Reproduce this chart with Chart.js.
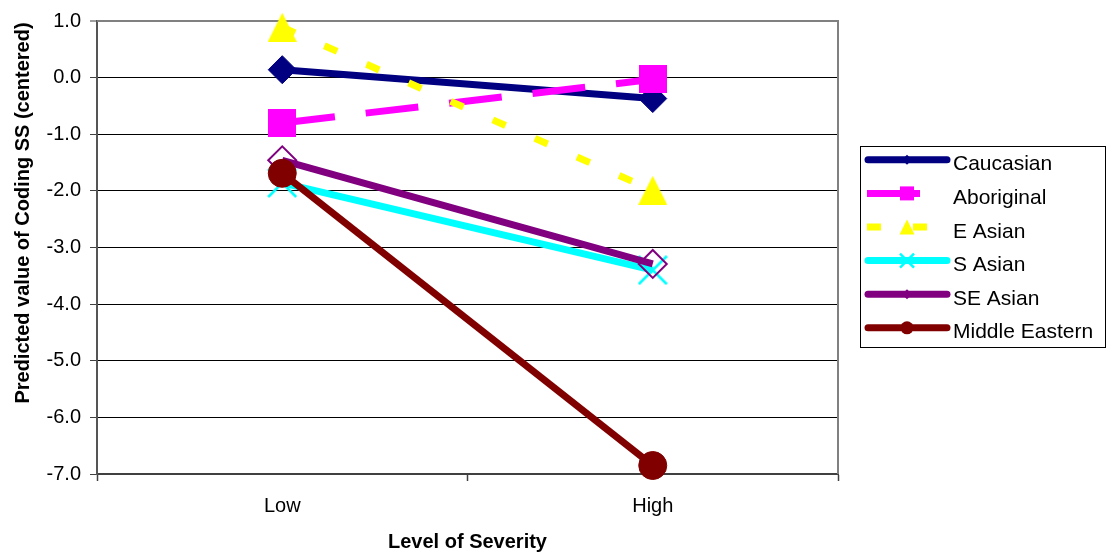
<!DOCTYPE html>
<html>
<head>
<meta charset="utf-8">
<script src="https://cdn.jsdelivr.net/npm/chart.js@4/dist/chart.umd.min.js"></script>
<style>
  html, body { margin: 0; padding: 0; background: #fff; }
  #wrap { width: 1112px; height: 559px; position: relative; }
</style>
</head>
<body>
<div id="wrap"><canvas id="c"></canvas></div>
<script>
// Categories and predicted values per group
const categories = ['Low', 'High'];
const caucasian = [0.14, -0.37];
const aboriginal = [-0.80, -0.03];
const eAsian = [0.89, -1.99];
const sAsian = [-1.86, -3.40];
const seAsian = [-1.46, -3.29];
const middleEastern = [-1.69, -6.85];
const seriesNames = ['Caucasian', 'Aboriginal', 'E Asian', 'S Asian', 'SE Asian', 'Middle Eastern'];
const yTicks = [1, 0, -1, -2, -3, -4, -5, -6, -7];
const yTitle = 'Predicted value of Coding SS (centered)';
const xTitle = 'Level of Severity';

const FONT = "'Liberation Sans', Arial, Helvetica, sans-serif";

// Marker sprites, each centred on its point
function sprite(size, paint) {
  const c = document.createElement('canvas');
  c.width = size; c.height = size;
  paint(c.getContext('2d'), size);
  return c;
}
function triangleImage(size, color) {
  return sprite(size, (g, n) => {
    g.fillStyle = color;
    g.beginPath();
    g.moveTo(n / 2, 0); g.lineTo(n, n); g.lineTo(0, n);
    g.closePath(); g.fill();
  });
}
function squareImage(size, color) {
  return sprite(size, (g, n) => { g.fillStyle = color; g.fillRect(0, 0, n, n); });
}
function crossImage(size, color, width) {
  return sprite(size, (g, n) => {
    g.strokeStyle = color; g.lineWidth = width;
    g.beginPath();
    g.moveTo(1, 1); g.lineTo(n - 1, n - 1);
    g.moveTo(n - 1, 1); g.lineTo(1, n - 1);
    g.stroke();
  });
}

const styles = [
  { color: '#000080', dash: [], marker: 'diamond', fill: true, lw: 1 },
  { color: '#FF00FF', dash: [53, 31], marker: 'square', fill: true, lw: 1 },
  { color: '#FFFF00', dash: [14, 32], marker: 'triangle', fill: true, lw: 1 },
  { color: '#00FFFF', dash: [], marker: 'x', fill: false, lw: 2.5 },
  { color: '#800080', dash: [], marker: 'diamondOpen', fill: false, lw: 2 },
  { color: '#800000', dash: [], marker: 'circle', fill: true, lw: 1 }
];
const seriesValues = [caucasian, aboriginal, eAsian, sAsian, seAsian, middleEastern];

function pointStyleFor(s) {
  switch (s.marker) {
    case 'diamond': case 'diamondOpen': return 'rectRot';
    case 'square': return squareImage(28, s.color);
    case 'triangle': return triangleImage(29, s.color);
    case 'x': return crossImage(30, s.color, 2.5);
    default: return 'circle';
  }
}

const datasets = seriesNames.map((name, i) => {
  const s = styles[i];
  return {
    label: name,
    data: seriesValues[i],
    borderColor: s.color,
    backgroundColor: s.color,
    borderWidth: 7,
    borderDash: s.dash,
    borderCapStyle: 'butt',
    pointStyle: pointStyleFor(s),
    pointRadius: 14,
    pointHoverRadius: 14,
    pointBackgroundColor: s.fill ? s.color : 'rgba(0,0,0,0)',
    pointBorderColor: s.color,
    pointBorderWidth: s.lw,
    clip: false,
    tension: 0,
    // later series are painted over earlier ones
    order: seriesNames.length - 1 - i
  };
});

// Small marker painter for the legend samples
function drawLegendMarker(ctx, s, x, y) {
  ctx.save();
  ctx.setLineDash([]);
  ctx.fillStyle = s.color;
  ctx.strokeStyle = s.color;
  ctx.beginPath();
  switch (s.marker) {
    case 'diamond':
    case 'diamondOpen': {
      const r = 5;
      ctx.moveTo(x, y - r); ctx.lineTo(x + r, y); ctx.lineTo(x, y + r); ctx.lineTo(x - r, y); ctx.closePath();
      ctx.fill();
      break;
    }
    case 'square': {
      const h = 7;
      ctx.rect(x - h, y - h, 2 * h, 2 * h);
      ctx.fill();
      break;
    }
    case 'triangle': {
      const h = 7.5;
      ctx.moveTo(x, y - h); ctx.lineTo(x + h, y + h); ctx.lineTo(x - h, y + h); ctx.closePath();
      ctx.fill();
      break;
    }
    case 'x': {
      const h = 7;
      ctx.lineWidth = 2.5;
      ctx.moveTo(x - h, y - h); ctx.lineTo(x + h, y + h);
      ctx.moveTo(x + h, y - h); ctx.lineTo(x - h, y + h);
      ctx.stroke();
      break;
    }
    default: {
      ctx.arc(x, y, 6.5, 0, Math.PI * 2);
      ctx.fill();
    }
  }
  ctx.restore();
}

// Grey frame on the top and right of the plot area
const framePlugin = {
  id: 'plotFrame',
  beforeDatasetsDraw(chart) {
    const { ctx, chartArea } = chart;
    ctx.save();
    ctx.strokeStyle = '#808080';
    ctx.lineWidth = 2;
    ctx.beginPath();
    ctx.moveTo(chartArea.left, chartArea.top);
    ctx.lineTo(chartArea.right, chartArea.top);
    ctx.lineTo(chartArea.right, chartArea.bottom);
    ctx.stroke();
    ctx.restore();
  }
};

// Vertical axis title, placed a little above the plot's middle
const yTitlePlugin = {
  id: 'yTitle',
  afterDraw(chart) {
    const ctx = chart.ctx;
    ctx.save();
    ctx.translate(23, 213);
    ctx.rotate(-Math.PI / 2);
    ctx.fillStyle = '#000';
    ctx.font = 'bold 20px ' + FONT;
    ctx.textAlign = 'center';
    ctx.textBaseline = 'middle';
    ctx.fillText(yTitle, 0, 0);
    ctx.restore();
  }
};

const legendPlugin = {
  id: 'sideLegend',
  afterDraw(chart) {
    const ctx = chart.ctx;
    const box = { x: 860.5, y: 146.5, w: 245, h: 201 };
    ctx.save();
    ctx.fillStyle = '#fff';
    ctx.fillRect(box.x, box.y, box.w, box.h);
    ctx.strokeStyle = '#000';
    ctx.lineWidth = 1;
    ctx.strokeRect(box.x, box.y, box.w, box.h);
    const rowStep = 33.6;
    seriesNames.forEach((name, i) => {
      const s = styles[i];
      const textY = 162.8 + i * rowStep;
      const lineY = textY - 3;
      ctx.save();
      ctx.strokeStyle = s.color;
      ctx.lineWidth = 7;
      ctx.lineCap = s.dash.length ? 'butt' : 'round';
      ctx.setLineDash(s.dash);
      ctx.beginPath();
      if (s.dash.length) {
        ctx.moveTo(867, lineY);
        ctx.lineTo(950, lineY);
      } else {
        ctx.moveTo(868, lineY);
        ctx.lineTo(947, lineY);
      }
      ctx.stroke();
      ctx.restore();
      drawLegendMarker(ctx, s, 907, lineY);
      ctx.fillStyle = '#000';
      ctx.font = '21px ' + FONT;
      ctx.textAlign = 'left';
      ctx.textBaseline = 'alphabetic';
      ctx.fillText(name, 953, textY + 7.5);
    });
    ctx.restore();
  }
};

new Chart(document.getElementById('c'), {
  type: 'line',
  data: { labels: categories, datasets },
  options: {
    responsive: true,
    maintainAspectRatio: false,
    animation: false,
    events: [],
    layout: { padding: { top: 16.5, right: 274, bottom: 0, left: 0 } },
    plugins: {
      legend: { display: false },
      tooltip: { enabled: false }
    },
    scales: {
      x: {
        type: 'category',
        offset: true,
        afterFit(scale) { scale.height = 85; },
        grid: {
          offset: true,
          drawOnChartArea: false,
          drawTicks: true,
          tickLength: 7,
          tickColor: '#404040',
          tickWidth: 1.5
        },
        border: { display: true, color: '#404040', width: 2 },
        ticks: {
          color: '#000',
          font: { family: FONT, size: 20 },
          padding: 13,
          maxRotation: 0
        },
        title: {
          display: true,
          text: xTitle,
          color: '#000',
          font: { family: FONT, size: 20, weight: 'bold' },
          padding: { top: 0, bottom: 5 }
        }
      },
      y: {
        type: 'linear',
        min: -7,
        max: 1,
        afterFit(scale) { scale.width = 97; },
        afterBuildTicks(scale) { scale.ticks = yTicks.map(v => ({ value: v })); },
        grid: {
          color: ctx => (ctx.tick && ctx.tick.value === 1) ? '#808080' : '#000000',
          lineWidth: ctx => (ctx.tick && ctx.tick.value === 1) ? 2 : 1,
          drawTicks: true,
          tickLength: 7,
          tickColor: '#404040',
          tickWidth: 1
        },
        border: { display: true, color: '#555555', width: 2 },
        ticks: {
          color: '#000',
          font: { family: FONT, size: 20 },
          padding: 9,
          callback: v => Number(v).toFixed(1)
        },
        title: { display: false }
      }
    }
  },
  plugins: [framePlugin, yTitlePlugin, legendPlugin]
});
</script>
</body>
</html>
